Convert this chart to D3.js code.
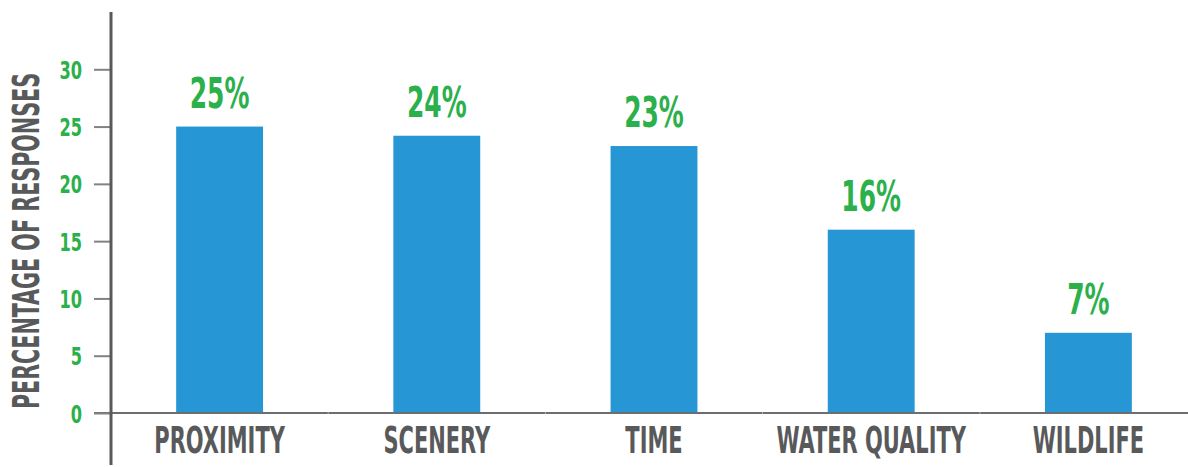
<!DOCTYPE html>
<html>
<head>
<meta charset="utf-8">
<script src="https://cdn.jsdelivr.net/npm/d3@7"></script>
<style>
  body { margin: 0; background: #fff; }
  text { font-family: "DejaVu Sans Condensed", "DejaVu Sans", sans-serif; font-weight: bold; }
</style>
</head>
<body>
<script>
var categories = ['PROXIMITY', 'SCENERY', 'TIME', 'WATER QUALITY', 'WILDLIFE'];
var values = [25, 24.2, 23.3, 16, 7];
var yTicks = [0, 5, 10, 15, 20, 25, 30];
var yTitle = 'PERCENTAGE OF RESPONSES';

var w = 1188, h = 467;

var svg = d3.select('body').append('svg')
  .attr('width', w)
  .attr('height', h);

var x = d3.scaleBand()
  .domain(categories)
  .range([111, 1197])
  .paddingInner(0.6)
  .paddingOuter(0.3);
var step = x.step();

var y = d3.scaleLinear()
  .domain([0, 35])
  .range([413, 12]);

// bars
svg.selectAll('rect.bar')
  .data(values)
  .enter()
  .append('rect')
  .attr('class', 'bar')
  .attr('x', function (d, i) { return x(categories[i]); })
  .attr('y', function (d) { return y(d); })
  .attr('width', x.bandwidth())
  .attr('height', function (d) { return y(0) - y(d); })
  .attr('fill', '#2796d5');

// value labels
svg.selectAll('text.val')
  .data(values)
  .enter()
  .append('text')
  .attr('class', 'val')
  .attr('transform', function (d, i) {
    return 'translate(' + (x(categories[i]) + x.bandwidth() / 2) + ',' + (y(d) - 19) + ') scale(0.66,1)';
  })
  .attr('text-anchor', 'middle')
  .attr('font-size', 42)
  .attr('fill', '#2bb04b')
  .text(function (d) { return Math.round(d) + '%'; });

// baseline with faint separators
svg.append('line')
  .attr('x1', 94).attr('x2', w)
  .attr('y1', y(0)).attr('y2', y(0))
  .attr('stroke', '#6d6e71')
  .attr('stroke-width', 2);
svg.selectAll('line.sep')
  .data(categories.slice(1))
  .enter()
  .append('line')
  .attr('class', 'sep')
  .attr('x1', function (d) { return x(d) - step * x.paddingInner() / 2; })
  .attr('x2', function (d) { return x(d) - step * x.paddingInner() / 2; })
  .attr('y1', y(0) - 1).attr('y2', y(0) + 1)
  .attr('stroke', '#aaa')
  .attr('stroke-width', 1);

// category labels
svg.selectAll('text.cat')
  .data(categories)
  .enter()
  .append('text')
  .attr('class', 'cat')
  .attr('transform', function (d) {
    return 'translate(' + (x(d) + x.bandwidth() / 2) + ',453) scale(0.63,1)';
  })
  .attr('text-anchor', 'middle')
  .attr('font-size', 37)
  .attr('fill', '#58595b')
  .text(function (d) { return d; });

// y axis
var yAxis = d3.axisLeft(y)
  .tickValues(yTicks)
  .tickSize(17)
  .tickPadding(12);
var gy = svg.append('g')
  .attr('transform', 'translate(111,0)')
  .call(yAxis);
gy.select('.domain').remove();
gy.selectAll('.tick line').attr('stroke', '#808285').attr('stroke-width', 2);
gy.selectAll('.tick text')
  .attr('fill', '#2bb04b')
  .attr('font-size', 25)
  .attr('dy', '0.36em')
  .each(function () {
    var t = d3.select(this);
    var tx = +t.attr('x');
    t.attr('x', null).attr('transform', 'translate(' + tx + ',0) scale(0.72,1)');
  });

svg.append('line')
  .attr('x1', 111).attr('x2', 111)
  .attr('y1', 12).attr('y2', 465)
  .attr('stroke', '#58595b')
  .attr('stroke-width', 3);

// y title
svg.append('text')
  .attr('transform', 'translate(39,241) rotate(-90) scale(0.605,1)')
  .attr('text-anchor', 'middle')
  .attr('font-size', 38)
  .attr('fill', '#58595b')
  .text(yTitle);
</script>
</body>
</html>
